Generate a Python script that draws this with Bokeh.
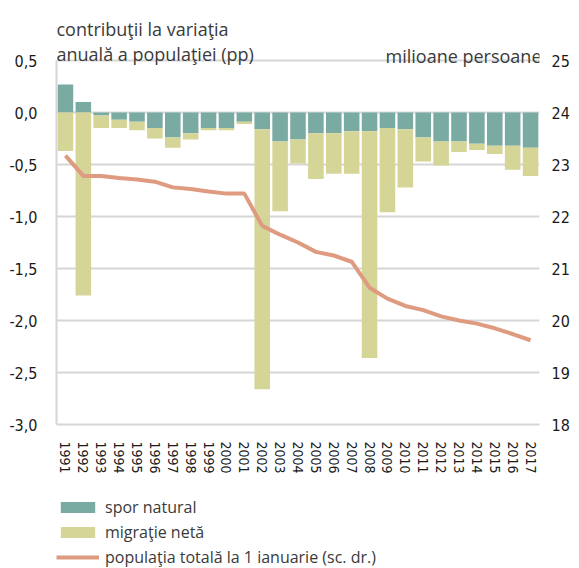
from bokeh.plotting import figure
from bokeh.layouts import column
from bokeh.models import (Range1d, LinearAxis, FixedTicker, Label, Legend, LegendItem,
                          ColumnDataSource, FactorRange)
from bokeh.embed import file_html
from bokeh.resources import INLINE

years = ["1991", "1992", "1993", "1994", "1995", "1996", "1997", "1998", "1999",
         "2000", "2001", "2002", "2003", "2004", "2005", "2006", "2007", "2008",
         "2009", "2010", "2011", "2012", "2013", "2014", "2015", "2016", "2017"]
natural = [0.27, 0.10, -0.03, -0.07, -0.09, -0.15, -0.24, -0.20, -0.15, -0.15,
           -0.09, -0.16, -0.28, -0.26, -0.20, -0.20, -0.18, -0.18, -0.15, -0.16,
           -0.24, -0.28, -0.28, -0.30, -0.32, -0.32, -0.34]
migration = [-0.37, -1.76, -0.12, -0.08, -0.08, -0.10, -0.10, -0.06, -0.02, -0.02,
             -0.02, -2.50, -0.67, -0.23, -0.44, -0.39, -0.41, -2.18, -0.81, -0.56,
             -0.23, -0.23, -0.10, -0.06, -0.08, -0.23, -0.27]
population = [23.17, 22.78, 22.78, 22.74, 22.71, 22.67, 22.56, 22.53, 22.48, 22.44,
              22.44, 21.82, 21.65, 21.50, 21.32, 21.25, 21.13, 20.63, 20.42, 20.28,
              20.20, 20.08, 20.00, 19.94, 19.85, 19.74, 19.62]

left_ticks = [0.5, 0.0, -0.5, -1.0, -1.5, -2.0, -2.5, -3.0]
left_labels = ["0,5", "0,0", "-0,5", "-1,0", "-1,5", "-2,0", "-2,5", "-3,0"]
right_ticks = [25, 24, 23, 22, 21, 20, 19, 18]
right_labels = ["25", "24", "23", "22", "21", "20", "19", "18"]

title_line1 = "contribuţii la variaţia"
title_line2 = "anuală a populaţiei (pp)"
right_title = "milioane persoane"
legend_labels = ["spor natural", "migraţie netă", "populaţia totală la 1 ianuarie (sc. dr.)"]

TEAL = "#7aaba2"
OLIVE = "#d5d598"
SALMON = "#de9b80"
GRID = "#d6d6d6"
TXT = "#3a3a3a"
TICK_FONT = "Liberation Sans Narrow, DejaVu Sans Condensed, sans-serif"
TEXT_FONT = "Open Sans"

# layout (pixels)
W, H = 579, 568
FRAME_L, FRAME_R = 56, 40
TOP_PX, BOTTOM_PX = 60, 424       # pixel rows of the 0,5 and -3,0 gridlines
AXIS_PX = 58                      # room for the rotated year labels
MAIN_H = BOTTOM_PX + AXIS_PX
LEG_H = H - MAIN_H
Y_MIN, Y_MAX = -3.0, 0.5
px_per_unit = (BOTTOM_PX - TOP_PX) / (Y_MAX - Y_MIN)
y_top = Y_MAX + TOP_PX / px_per_unit   # frame reaches the top so the titles are inside it
pop_top = 24 + 2 * y_top

mig_top = [min(n, 0.0) for n in natural]
mig_bottom = [t + m for t, m in zip(mig_top, migration)]
src = ColumnDataSource(dict(year=years, nat=natural, zero=[0.0] * len(years),
                            mtop=mig_top, mbot=mig_bottom, pop=population))

p = figure(width=W, height=MAIN_H, x_range=FactorRange(*years, range_padding=0),
           y_range=Range1d(Y_MIN, y_top), output_backend="svg", toolbar_location=None,
           title_location=None,
           min_border_left=FRAME_L, min_border_right=FRAME_R, min_border_top=0,
           min_border_bottom=AXIS_PX)
p.outline_line_color = None
p.background_fill_color = "white"
p.extra_y_ranges = {"pop": Range1d(18, pop_top)}

r_nat = p.vbar(x="year", top="nat", bottom="zero", width=0.87, source=src,
               fill_color=TEAL, line_color=None)
r_mig = p.vbar(x="year", top="mtop", bottom="mbot", width=0.87, source=src,
               fill_color=OLIVE, line_color=None)
r_pop = p.line(x="year", y="pop", source=src, y_range_name="pop",
               line_color=SALMON, line_width=4)

# grid
p.xgrid.grid_line_color = None
p.ygrid.ticker = FixedTicker(ticks=left_ticks)
p.ygrid.grid_line_color = GRID
p.ygrid.grid_line_width = 2

# left axis line only (bounded to the plotted span)
ya = p.yaxis[0]
ya.ticker = FixedTicker(ticks=[])
ya.bounds = (Y_MIN, Y_MAX)
ya.axis_line_color = GRID
ya.axis_line_width = 2
ya.major_tick_line_color = None
ya.minor_tick_line_color = None
ya.major_tick_out = 0
ya.major_label_standoff = 0

# left tick labels (separate axis without bounds)
la = LinearAxis(ticker=FixedTicker(ticks=left_ticks))
la.major_label_overrides = dict(zip(left_ticks, left_labels))
la.axis_line_color = None
la.major_tick_line_color = None
la.minor_tick_line_color = None
la.major_tick_out = 0
la.major_label_standoff = 19
la.major_label_text_font = TICK_FONT
la.major_label_text_font_size = "16px"
la.major_label_text_color = "#1a1a1a"
p.add_layout(la, "left")

# right axis
ra = LinearAxis(y_range_name="pop", ticker=FixedTicker(ticks=right_ticks))
ra.major_label_overrides = dict(zip(right_ticks, right_labels))
ra.axis_line_color = None
ra.major_tick_line_color = None
ra.minor_tick_line_color = None
ra.major_tick_out = 0
ra.major_label_standoff = 12
ra.major_label_text_font = TICK_FONT
ra.major_label_text_font_size = "16px"
ra.major_label_text_color = "#1a1a1a"
p.add_layout(ra, "right")

# x axis: its line doubles as the -3,0 gridline
xa = p.xaxis[0]
xa.axis_line_color = GRID
xa.axis_line_width = 2
xa.major_tick_line_color = None
xa.major_tick_out = 0
xa.major_label_orientation = "vertical"
xa.major_label_standoff = 17
xa.major_label_text_font = TICK_FONT
xa.major_label_text_font_size = "14px"
xa.major_label_text_color = "#1a1a1a"

# titles (inside the frame, above the 0,5 line)
frame_h = BOTTOM_PX
for txt, xx, yy, al in [(title_line1, 0, frame_h - 28, "left"),
                        (title_line2, 0, frame_h - 53, "left"),
                        (right_title, W - FRAME_L - FRAME_R + 2, frame_h - 55, "right")]:
    p.add_layout(Label(x=xx, y=yy, x_units="screen", y_units="screen", text=txt,
                       text_font=TEXT_FONT, text_font_size="18px", text_color=TXT,
                       text_align=al, text_baseline="alphabetic"))

# legend figure (its glyphs share the series' styles; the data lie outside its range)
q = figure(width=W, height=LEG_H, x_range=FactorRange(*years, range_padding=0),
           y_range=Range1d(100, 101), output_backend="svg", toolbar_location=None,
           title_location=None, x_axis_location=None, y_axis_location=None,
           min_border=0, min_border_left=0, min_border_right=0,
           min_border_top=0, min_border_bottom=0)
q.grid.visible = False
q.outline_line_color = None
q_nat = q.vbar(x="year", top="nat", bottom="zero", width=0.87, source=src,
               fill_color=TEAL, line_color=None)
q_mig = q.vbar(x="year", top="mtop", bottom="mbot", width=0.87, source=src,
               fill_color=OLIVE, line_color=None)
q_pop = q.line(x="year", y="pop", source=src, line_color=SALMON, line_width=4)

legend = Legend(items=[LegendItem(label=legend_labels[0], renderers=[q_nat]),
                       LegendItem(label=legend_labels[1], renderers=[q_mig]),
                       LegendItem(label=legend_labels[2], renderers=[q_pop])],
                location=(0, 0), orientation="vertical",
                glyph_width=43, glyph_height=14, label_height=22, spacing=3,
                label_standoff=6, padding=0, margin=0,
                label_text_font=TEXT_FONT, label_text_font_size="16px",
                label_text_color=TXT, background_fill_alpha=0,
                border_line_color=None)
q.add_layout(legend, "center")

layout = column(p, q, spacing=0)
open("out.html", "w").write(file_html(layout, INLINE))
